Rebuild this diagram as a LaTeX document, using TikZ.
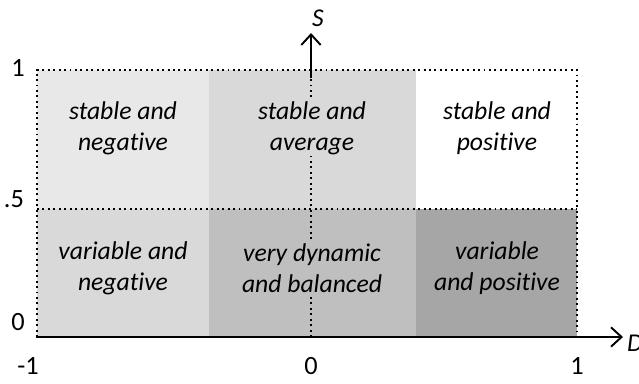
\documentclass[tikz,border=0pt]{standalone}
\usepackage{fontspec}
\setmainfont{Carlito}[Ligatures={NoCommon}]
\usetikzlibrary{arrows.meta}

\tikzset{
    axis/.style={line width=1.2pt, -{Straight Barb[length=6pt,width=11pt,line width=1.1pt]}},
    grid/.style={line width=1.1pt, dotted},
    cell/.style={align=center, font=\fontsize{14.6}{17.5}\selectfont\itshape, inner sep=1pt},
    tick/.style={font=\fontsize{15}{18}\selectfont}
}

\begin{document}
\begin{tikzpicture}[x=0.02cm,y=-0.02cm]
    \useasboundingbox (0,0) rectangle (639,383);
    % cells
    \fill [black!9]  (37,70) rectangle (209,209);
    \fill [black!15] (209,70) rectangle (416,209);
    \fill [black!15] (37,209) rectangle (209,337);
    \fill [black!25] (209,209) rectangle (416,337);
    \fill [black!35] (416,209) rectangle (577,337);
    % dotted frame
    \draw [grid] (37,337) -- (37,70) -- (577,70) -- (577,337);
    \draw [grid] (37,209) -- (577,209);
    \draw [grid] (311,337) -- (311,77);
    % axes
    \coordinate (orig) at (36,337);
    \coordinate (dtip) at (623,337);
    \coordinate (sbase) at (311,78);
    \coordinate (stip) at (311,33);
    \draw [axis] (orig) -- (dtip);
    \draw [axis] (sbase) -- (stip);
    \node [cell] (slab) at (318,18) {S};
    \node [cell, anchor=west] (dlab) at (625,343) {D};
    % labels in the cells
    \node [cell] (sneg) at (123,128) {stable and\\negative};
    \node [cell, fill=black!15] (savg) at (312,128) {stable and\\average};
    \node [cell] (spos) at (497,128) {stable and\\positive};
    \node [cell] (vneg) at (123,268) {variable and\\negative};
    \node [cell, fill=black!25] (vdyn) at (312,268) {very dynamic\\and balanced};
    \node [cell] (vpos) at (497,268) {variable\\and positive};
    % ticks
    \node [tick] (y1) at (18,68) {1};
    \node [tick] (y5) at (14,199) {.5};
    \node [tick] (y0) at (18,322) {0};
    \node [tick] (xm1) at (28,366) {-1};
    \node [tick] (x0) at (311,366) {0};
    \node [tick] (x1) at (577,366) {1};
\end{tikzpicture}
\end{document}
